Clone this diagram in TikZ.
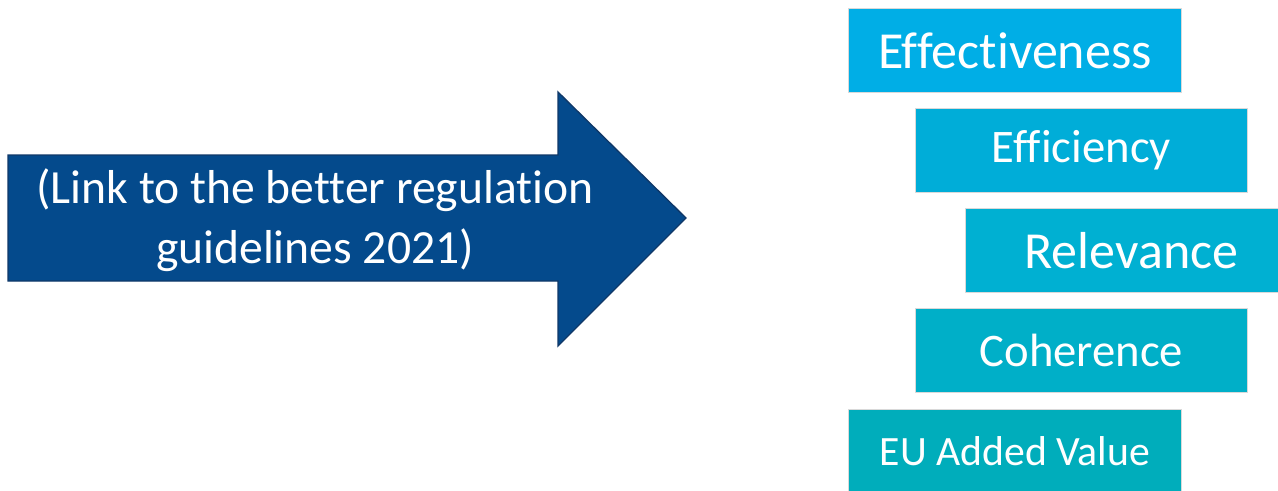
\documentclass[tikz,border=0pt]{standalone}
\usepackage{fontspec}
\setmainfont{Carlito}[Ligatures=NoCommon]
\usetikzlibrary{positioning}

\definecolor{arrowblue}{RGB}{4,74,140}
\definecolor{arrowedge}{RGB}{16,56,104}
\definecolor{critA}{RGB}{0,174,230}
\definecolor{critB}{RGB}{0,173,216}
\definecolor{critC}{RGB}{0,176,210}
\definecolor{critD}{RGB}{0,175,200}
\definecolor{critE}{RGB}{0,173,187}

\begin{document}
\begin{tikzpicture}[x=0.75pt,y=-0.75pt,
 critbox/.style={draw=white!85!black,line width=0.6pt,text=white,minimum height=84*0.75pt,inner sep=0pt,anchor=north west}]
 \useasboundingbox (0,0) rectangle (1278,490);
 \clip (0,0) rectangle (1278,490);
 % big arrow
 \draw[fill=arrowblue,draw=arrowedge,line width=1pt](8,155)--(558,155)--(558,92)--(686,218)--(558,346)--(558,281)--(8,281)--cycle;
 \node[text=white,align=center,font=\fontsize{35.7}{45}\selectfont] (link) at (315,220) {(Link to the better regulation\\guidelines 2021)};
 % criteria
 \node[critbox,fill=critA,minimum width=333*0.75pt,font=\fontsize{39}{46}\selectfont] (effect) at (848,8) {Effectiveness};
 \node[critbox,fill=critB,minimum width=332*0.75pt,font=\fontsize{35}{42}\selectfont] (effic) at (915,108) {Efficiency};
 \node[critbox,fill=critC,minimum width=332*0.75pt,font=\fontsize{39}{46}\selectfont] (relev) at (965,208) {Relevance};
 \node[critbox,fill=critD,minimum width=332*0.75pt,font=\fontsize{35}{42}\selectfont] (coher) at (915,308) {Coherence};
 \node[critbox,fill=critE,minimum width=333*0.75pt,font=\fontsize{31.3}{38}\selectfont] (added) at (848,409) {EU Added Value};
\end{tikzpicture}
\end{document}
